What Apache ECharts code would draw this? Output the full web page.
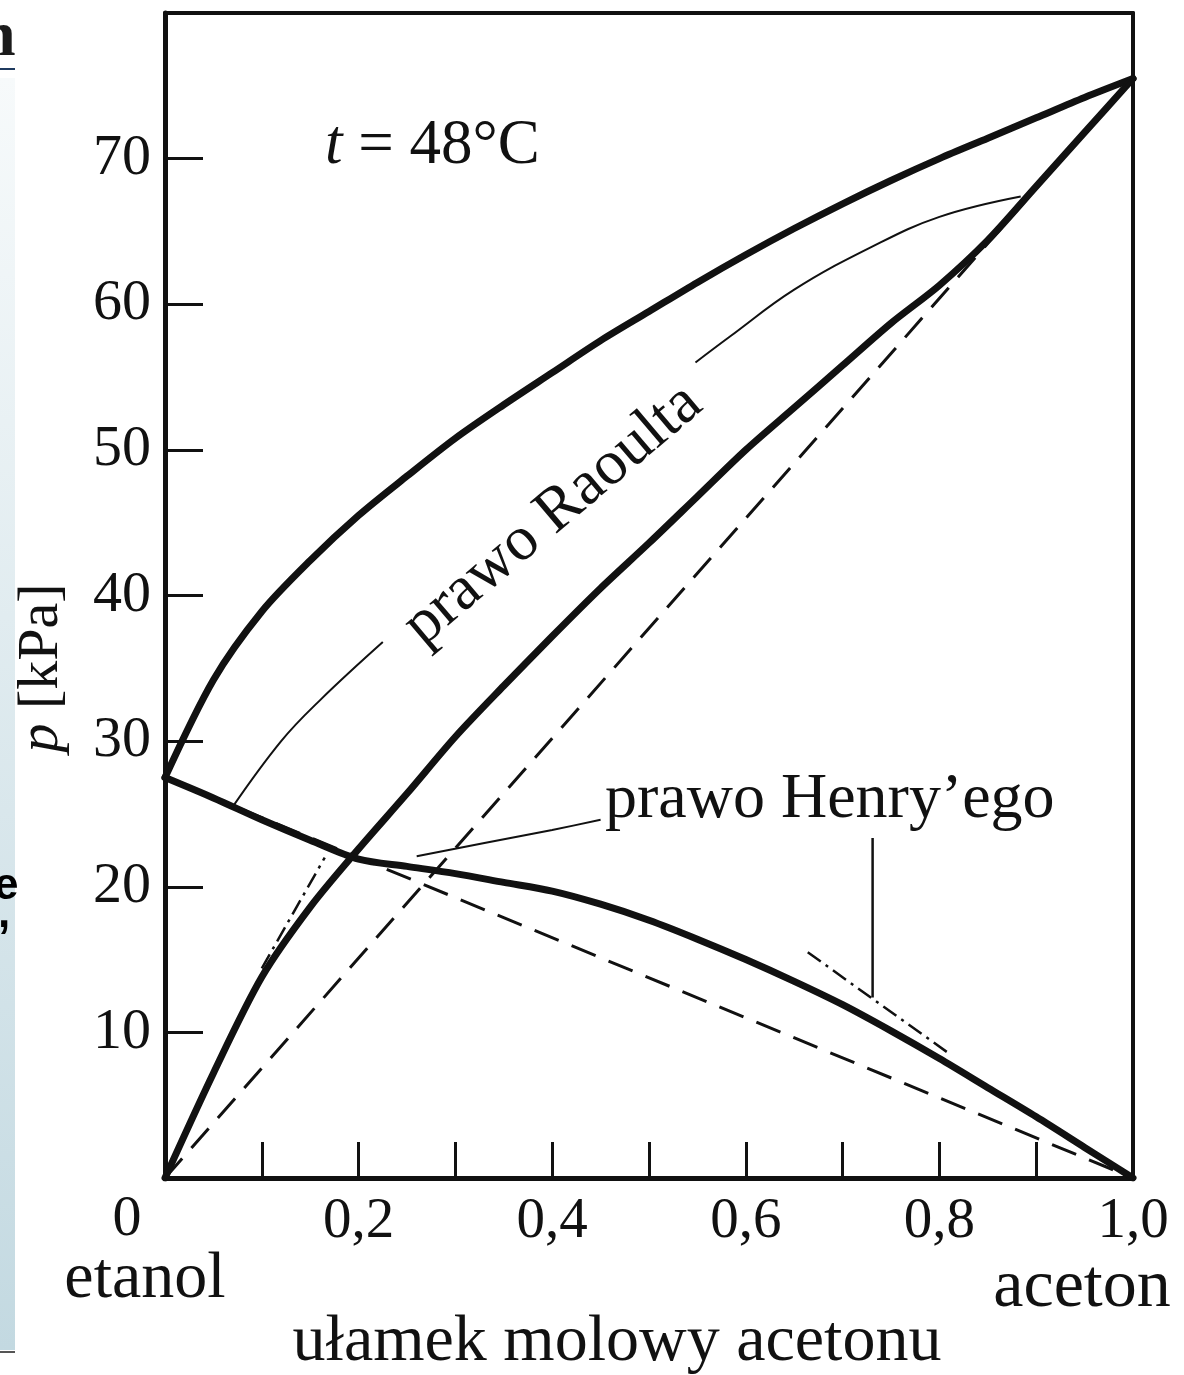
<!DOCTYPE html>
<html>
<head>
<meta charset="utf-8">
<script src="https://cdn.jsdelivr.net/npm/echarts@6/dist/echarts.min.js"></script>
<style>
html,body{margin:0;padding:0;background:#fff;}
#c{width:1184px;height:1375px;}
</style>
</head>
<body>
<div id="c"></div>
<script>
// ---- data (mole fraction of acetone, pressure kPa) ----
const gridX    = [0, 0.05, 0.10, 0.15, 0.20, 0.25, 0.30, 0.35, 0.40, 0.45, 0.50, 0.55, 0.60, 0.65, 0.70, 0.75, 0.80, 0.85, 0.90, 0.95, 1.0];
const totalP   = [27.5, 34.2, 38.9, 42.4, 45.5, 48.2, 50.8, 53.1, 55.3, 57.5, 59.5, 61.5, 63.4, 65.2, 66.9, 68.5, 70.0, 71.4, 72.8, 74.2, 75.5];
const acetP    = [0, 7.2, 13.8, 18.6, 22.6, 26.4, 30.3, 33.8, 37.2, 40.5, 43.6, 46.8, 50.0, 52.9, 55.8, 58.7, 61.3, 64.4, 68.1, 71.8, 75.5];
const ethP     = [27.5, 26.1, 24.6, 23.2, 21.9, 21.4, 20.9, 20.3, 19.7, 18.8, 17.7, 16.4, 15.0, 13.5, 11.9, 10.1, 8.2, 6.2, 4.2, 2.1, 0];
const raoultAcetX = [0, 1.0];
const raoultAcetP = [0, 75.5];
const raoultEthX  = [0, 1.0];
const raoultEthP  = [27.5, 0];
const henryAcetX  = [0.100, 0.165];
const henryAcetP  = [14.4, 22.0];
const henryEthX   = [0.664, 0.812];
const henryEthP   = [15.5, 8.45];
const raoultLead1X = [0.069, 0.12, 0.160, 0.225];
const raoultLead1P = [25.4, 30.0, 32.8, 36.8];
const raoultLead2X = [0.548, 0.584, 0.65, 0.729, 0.80, 0.884];
const raoultLead2P = [56.0, 57.8, 61.0, 63.9, 66.0, 67.4];
const henryLead1X = [0.45, 0.40, 0.33, 0.26];
const henryLead1P = [24.6, 23.9, 23.0, 22.1];
const henryLead2X = [0.731, 0.731];
const henryLead2P = [23.35, 12.4];
const xTickLabels = {0.2:'0,2', 0.4:'0,4', 0.6:'0,6', 0.8:'0,8', 1.0:'1,0'};
const yTickLabels = {10:'10', 20:'20', 30:'30', 40:'40', 50:'50', 60:'60', 70:'70'};

const zip = (xs, ys) => xs.map((x, i) => [x, ys[i]]);
const FONT = 'Liberation Serif';
const INK = '#111';

const chart = echarts.init(document.getElementById('c'), null, {renderer: 'canvas'});

function thick(d, w) {
  return {type:'line', data:d, showSymbol:false, smooth:0.3, lineStyle:{color:INK, width:w||7, cap:'round', join:'round'}, z:3};
}
function thin(d, w, type, smooth) {
  return {type:'line', data:d, showSymbol:false, smooth:smooth||0, lineStyle:{color:INK, width:w, type:type||'solid'}, z:3};
}
const frameAxis = {
  axisLine:{onZero:false, lineStyle:{color:INK, width:4}}, axisTick:{show:false}, axisLabel:{show:false}, splitLine:{show:false}
};

const option = {
  backgroundColor: '#fff',
  animation: false,
  grid: {left:165, right:51, top:13, bottom:197},
  xAxis: [{
    type:'value', min:0, max:1, interval:0.1,
    axisLine:{onZero:false, lineStyle:{color:INK, width:5}},
    axisTick:{inside:true, length:36, lineStyle:{color:INK, width:3}},
    splitLine:{show:false},
    axisLabel:{
      margin:16, color:INK, fontFamily:FONT, fontSize:57,
      formatter: v => { const k = Math.round(v*10)/10; return xTickLabels[k] || ''; }
    }
  }, Object.assign({type:'value', min:0, max:1, position:'top'}, frameAxis)],
  yAxis: [{
    type:'value', min:0, max:80, interval:10,
    axisLine:{onZero:false, lineStyle:{color:INK, width:5}},
    axisTick:{inside:true, length:38, lineStyle:{color:INK, width:3}},
    splitLine:{show:false},
    axisLabel:{
      margin:14, color:INK, fontFamily:FONT, fontSize:58,
      formatter: v => yTickLabels[Math.round(v)] || ''
    }
  }, Object.assign({type:'value', min:0, max:80, position:'right'}, frameAxis)],
  series: [
    thick(zip(gridX, totalP), 7),
    thick(zip(gridX, acetP), 7),
    thick(zip(gridX, ethP), 7),
    thin(zip(raoultAcetX, raoultAcetP), 3, [26, 14]),
    thin(zip(raoultEthX, raoultEthP), 3, [26, 14]),
    thin(zip(henryAcetX, henryAcetP), 2.5, [16, 6, 3, 6]),
    thin(zip(henryEthX, henryEthP), 2.5, [16, 6, 3, 6]),
    thin(zip(raoultLead1X, raoultLead1P), 2, 'solid', 0.4),
    thin(zip(raoultLead2X, raoultLead2P), 2, 'solid', 0.4),
    thin(zip(henryLead1X, henryLead1P), 2, 'solid', 0.3),
    thin(zip(henryLead2X, henryLead2P), 2.5, 'solid')
  ],
  graphic: [
    // slide remnant on the left edge
    {type:'text', left:-20, top:6, z:0, style:{text:'ne', font:'bold 64px "Liberation Serif"', fill:'#1b1b1b'}},
    {type:'rect', shape:{x:15, y:0, width:1169, height:1375}, style:{fill:'#fff'}, z:0},
    {type:'rect', shape:{x:0, y:78, width:15, height:1272},
      style:{fill:new echarts.graphic.LinearGradient(0,0,0,1,[{offset:0,color:'#f7fafb'},{offset:1,color:'#c3d9e1'}])}, z:0},
    {type:'line', shape:{x1:0, y1:69, x2:15, y2:69}, style:{stroke:'#1f3a5f', lineWidth:2}, z:1},
    {type:'line', shape:{x1:0, y1:1352, x2:15, y2:1352}, style:{stroke:'#555', lineWidth:2}, z:1},
    {type:'text', x:-6, y:887, z:2, style:{text:'e', verticalAlign:'middle', font:'bold 44px "Liberation Sans"', fill:'#000'}},
    {type:'text', x:-2, y:915, z:2, style:{text:',', verticalAlign:'middle', font:'bold 44px "Liberation Sans"', fill:'#000'}},
    // annotations
    {type:'text', x:325, y:146, z:5, style:{
      text:'{i|t} = 48°C', verticalAlign:'middle',
      rich:{i:{font:'italic 63px "Liberation Serif"', fill:INK}},
      font:'63px "Liberation Serif"', fill:INK}},
    {type:'text', x:553, y:515, rotation:40.3*Math.PI/180, z:5, style:{
      text:'prawo Raoulta', align:'center', verticalAlign:'middle',
      font:'63px "Liberation Serif"', fill:INK}},
    {type:'text', x:605, y:800, z:5, style:{
      text:'prawo Henry’ego', verticalAlign:'middle',
      font:'64px "Liberation Serif"', fill:INK}},
    {type:'text', x:42, y:668, rotation:Math.PI/2, z:5, style:{
      text:'{i|p} [kPa]', align:'center', verticalAlign:'middle',
      rich:{i:{font:'italic 58px "Liberation Serif"', fill:INK}},
      font:'58px "Liberation Serif"', fill:INK}},
    {type:'text', x:127, y:1220, z:5, style:{text:'0', align:'center', verticalAlign:'middle', font:'58px "Liberation Serif"', fill:INK}},
    {type:'text', x:145, y:1280, z:5, style:{text:'etanol', align:'center', verticalAlign:'middle', font:'66px "Liberation Serif"', fill:INK}},
    {type:'text', x:1082, y:1288, z:5, style:{text:'aceton', align:'center', verticalAlign:'middle', font:'68px "Liberation Serif"', fill:INK}},
    {type:'text', x:617, y:1343, z:5, style:{text:'ułamek molowy acetonu', align:'center', verticalAlign:'middle', font:'66px "Liberation Serif"', fill:INK}}
  ]
};
chart.setOption(option);
</script>
</body>
</html>
